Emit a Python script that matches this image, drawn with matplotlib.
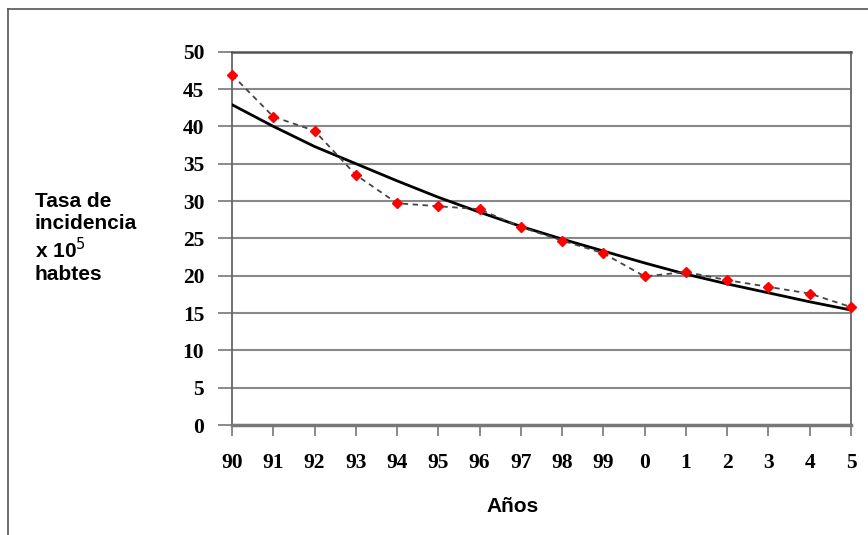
import matplotlib.pyplot as plt
import numpy as np
from matplotlib.lines import Line2D

# ===== Data =====
years = np.arange(16)
year_labels = ["90", "91", "92", "93", "94", "95", "96", "97", "98", "99",
               "0", "1", "2", "3", "4", "5"]
tasa = [46.9, 41.3, 39.4, 33.5, 29.7, 29.3, 28.9, 26.5, 24.7, 23.0,
        19.9, 20.5, 19.4, 18.5, 17.6, 15.8]
tendencia = [42.9, 40.0, 37.3, 35.0, 32.7, 30.5, 28.5, 26.6, 24.9, 23.3,
             21.7, 20.2, 18.9, 17.7, 16.5, 15.4]
y_ticks = np.arange(0, 51, 5)

# ===== Style =====
tick_font = dict(family="Liberation Serif", weight="bold", size=15.5)
label_font = dict(family="Liberation Sans", weight="bold", size=15)

fig = plt.figure(figsize=(8.68, 5.35), dpi=100)
ax = fig.add_axes([0.2673, 0.2056, 0.7131, 0.6978])

# ===== Lines =====
ax.plot(years, tendencia, color="black", linewidth=2.0, zorder=3)
ax.plot(years, tasa, color="#444444", linestyle=(0, (3, 2.5)), linewidth=1.3,
        marker="D", markersize=5.5, markerfacecolor="red", markeredgecolor="red",
        zorder=4, clip_on=False)

# ===== Axes =====
ax.set_xlim(0, 15)
ax.set_ylim(0, 50)
ax.set_yticks(y_ticks)
ax.set_yticklabels([str(v) for v in y_ticks], fontdict=tick_font)
ax.set_xticks(years)
ax.set_xticklabels(year_labels, fontdict=tick_font)

ax.grid(axis="y", color="#888888", linewidth=1.5)
ax.set_axisbelow(True)
ax.tick_params(axis="y", length=10, width=1.2, color="#777777", pad=10)
ax.tick_params(axis="x", length=8, width=1.2, color="#777777", pad=12)

for side in ["left", "right"]:
    ax.spines[side].set_color("#666666")
    ax.spines[side].set_linewidth(1.3)
ax.spines["bottom"].set_color("#777777")
ax.spines["bottom"].set_linewidth(2.5)
ax.spines["top"].set_color("#555555")
ax.spines["top"].set_linewidth(1.8)

# ===== Labels =====
fig.text(35 / 868, 1 - 238 / 535, "Tasa de\nincidencia\nx 10$^5$\nhabtes",
         ha="left", va="center", linespacing=1.18, **label_font)
fig.text(513 / 868, 1 - 507 / 535, "Años", ha="center", va="center", **label_font)

# ===== Frame around the figure =====
fig.add_artist(Line2D([8 / 868, 1], [1 - 9 / 535] * 2, transform=fig.transFigure,
                      color="#555555", linewidth=1.2))
fig.add_artist(Line2D([8 / 868] * 2, [0, 1 - 9 / 535], transform=fig.transFigure,
                      color="#555555", linewidth=1.2))

plt.savefig("out.png", dpi=100)
